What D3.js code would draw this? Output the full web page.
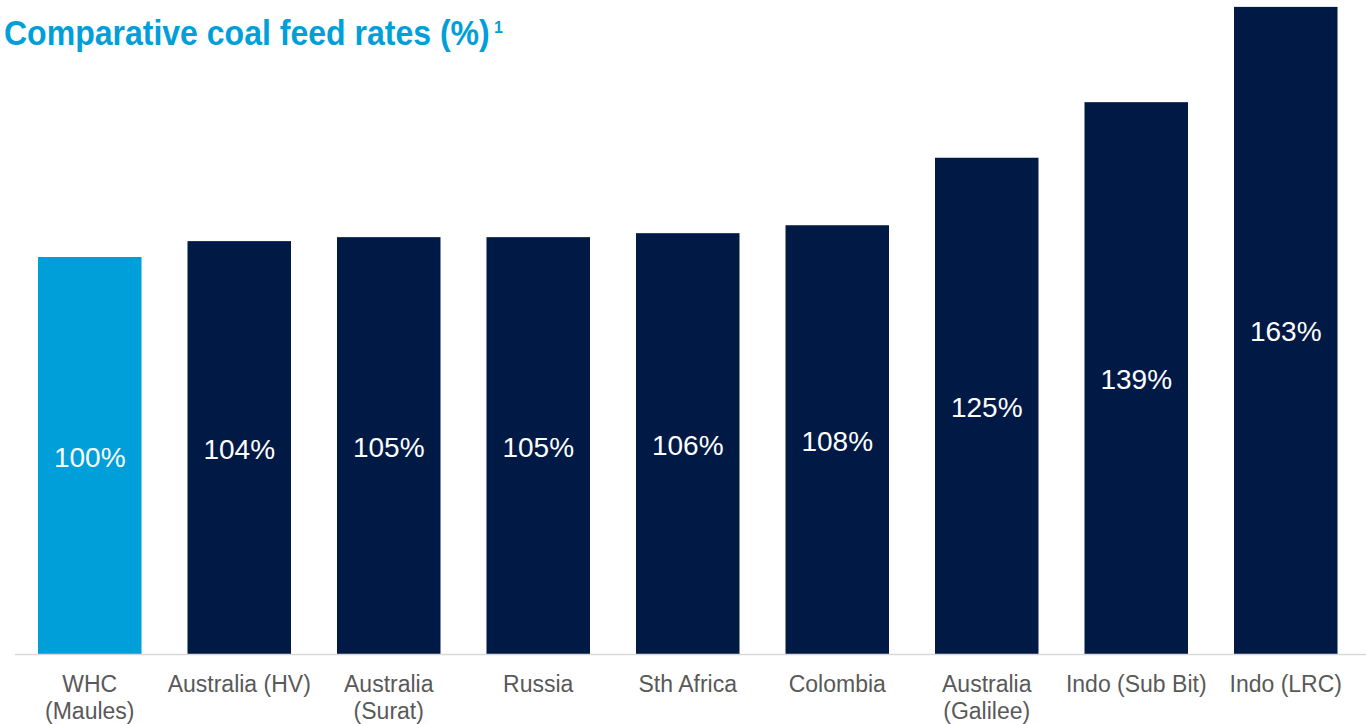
<!DOCTYPE html>
<html>
<head>
<meta charset="utf-8">
<script src="https://cdn.jsdelivr.net/npm/d3@7"></script>
<style>
  body { margin: 0; background: #fff; }
  svg { display: block; font-family: "Liberation Sans", Arial, sans-serif; }
</style>
</head>
<body>
<div id="chart"></div>
<script>
// data
var categories = [
  ["WHC", "(Maules)"],
  ["Australia (HV)"],
  ["Australia", "(Surat)"],
  ["Russia"],
  ["Sth Africa"],
  ["Colombia"],
  ["Australia", "(Galilee)"],
  ["Indo (Sub Bit)"],
  ["Indo (LRC)"]
];
var values = [100, 104, 105, 105, 106, 108, 125, 139, 163];
var highlight = [true, false, false, false, false, false, false, false, false];

var width = 1366, height = 724;
var baseline = 654;

var svg = d3.select("#chart").append("svg")
    .attr("width", width)
    .attr("height", height);

// title (the original font is narrower than Arial, so squeeze it)
svg.append("text")
    .attr("transform", "translate(4,45) scale(0.915,1)")
    .style("font-size", "35px")
    .style("font-weight", "bold")
    .style("fill", "#009FDA")
    .text("Comparative coal feed rates (%)");

// footnote marker
svg.append("text")
    .attr("x", 494)
    .attr("y", 33)
    .style("font-size", "16px")
    .style("font-weight", "bold")
    .style("fill", "#009FDA")
    .text("1");

// set the ranges
var step = 149.5;
var x = d3.scaleBand()
    .domain(d3.range(categories.length))
    .range([15, 15 + step * categories.length])
    .paddingInner(46 / step)
    .paddingOuter(23 / step);

var y = d3.scaleLinear()
    .domain([0, 100])
    .range([baseline, 257]);

// bars
svg.selectAll("rect.bar")
    .data(values)
  .enter().append("rect")
    .attr("class", "bar")
    .attr("x", function(d, i) { return x(i); })
    .attr("y", function(d) { return y(d); })
    .attr("width", x.bandwidth())
    .attr("height", function(d) { return baseline - y(d); })
    .style("fill", function(d, i) { return highlight[i] ? "#009FDA" : "#001A45"; });

// value labels centred in bars
svg.selectAll("text.val")
    .data(values)
  .enter().append("text")
    .attr("class", "val")
    .attr("x", function(d, i) { return x(i) + x.bandwidth() / 2; })
    .attr("y", function(d) { return (y(d) + baseline) / 2 + 11; })
    .attr("text-anchor", "middle")
    .style("font-size", "28px")
    .style("fill", "#fff")
    .text(function(d) { return d + "%"; });

// x axis line
svg.append("line")
    .attr("x1", 15)
    .attr("x2", width)
    .attr("y1", baseline + 0.5)
    .attr("y2", baseline + 0.5)
    .style("stroke", "#d9d9d9")
    .style("stroke-width", 1.5);

// category labels
var cat = svg.selectAll("text.cat")
    .data(categories)
  .enter().append("text")
    .attr("class", "cat")
    .attr("x", function(d, i) { return x(i) + x.bandwidth() / 2; })
    .attr("y", 692)
    .attr("text-anchor", "middle")
    .style("font-size", "23px")
    .style("fill", "#595959");

cat.selectAll("tspan")
    .data(function(d) { return d; })
  .enter().append("tspan")
    .attr("x", function() { return this.parentNode.getAttribute("x"); })
    .attr("dy", function(d, j) { return j === 0 ? 0 : 27; })
    .text(function(d) { return d; });
</script>
</body>
</html>
